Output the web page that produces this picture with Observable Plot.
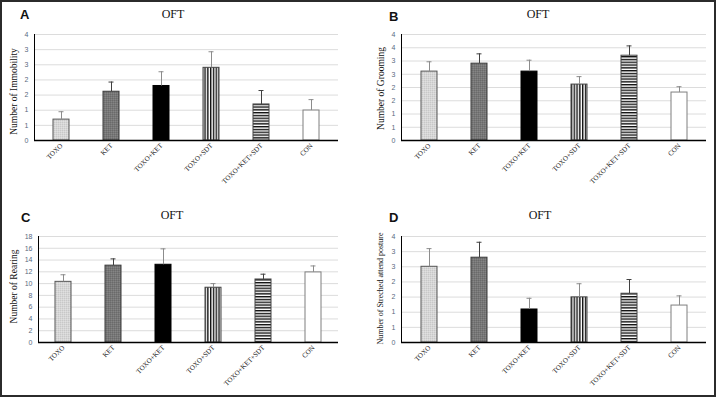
<!DOCTYPE html>
<html><head><meta charset="utf-8">
<script src="https://cdn.jsdelivr.net/npm/d3@7"></script>
<script src="https://cdn.jsdelivr.net/npm/@observablehq/plot@0.6"></script>
<style>
body{margin:0;background:#fff;}
#fig{position:relative;width:716px;height:397px;overflow:hidden;background:#fff;}
.frame{position:absolute;left:0;top:0;width:716px;height:397px;box-sizing:border-box;border:2px solid #2b2b2b;pointer-events:none;}
.panel{position:absolute;}
.letter{position:absolute;font-family:"Liberation Sans",Arial,sans-serif;font-weight:bold;font-size:13px;line-height:13px;color:#111;}
.title{position:absolute;font-family:"Liberation Serif","Times New Roman",serif;font-size:12px;line-height:12px;transform:translateX(-50%);color:#111;}
</style></head>
<body>
<svg width="0" height="0" style="position:absolute">
  <defs>
    <pattern id="pLight" width="2" height="2" patternUnits="userSpaceOnUse">
      <rect width="2" height="2" fill="#d6d6d6"/><rect width="1" height="1" fill="#c8c8c8"/><rect x="1" y="1" width="1" height="1" fill="#e0e0e0"/>
    </pattern>
    <pattern id="pDark" width="2" height="2" patternUnits="userSpaceOnUse">
      <rect width="2" height="2" fill="#777"/><rect width="1" height="1" fill="#6a6a6a"/><rect x="1" y="1" width="1" height="1" fill="#858585"/>
    </pattern>
    <pattern id="pV" width="2.8" height="3" patternUnits="userSpaceOnUse">
      <rect width="2.8" height="3" fill="#fff"/><rect width="1.4" height="3" fill="#111"/>
    </pattern>
    <pattern id="pH" width="3" height="2.8" patternUnits="userSpaceOnUse">
      <rect width="3" height="2.8" fill="#fff"/><rect width="3" height="1.4" fill="#111"/>
    </pattern>
  </defs>
</svg>
<div id="fig"></div>
<script>
// ---- data ----
const categories = ["TOXO", "KET", "TOXO+KET", "TOXO+SDT", "TOXO+KET+SDT", "CON"];

const immobilityMean = [0.69, 1.61, 1.80, 2.40, 1.19, 0.99];
const immobilityErr  = [0.26, 0.32, 0.47, 0.53, 0.46, 0.36];

const groomingMean = [2.60, 2.90, 2.60, 2.11, 3.20, 1.81];
const groomingErr  = [0.37, 0.37, 0.43, 0.30, 0.37, 0.22];

const rearingMean = [10.3, 13.05, 13.2, 9.3, 10.7, 11.9];
const rearingErr  = [1.2, 1.15, 2.7, 0.7, 0.9, 1.1];

const stretchedMean = [2.50, 2.80, 1.09, 1.49, 1.61, 1.22];
const stretchedErr  = [0.60, 0.51, 0.37, 0.45, 0.47, 0.32];

const ticks35 = [0, 0.5, 1, 1.5, 2, 2.5, 3, 3.5];
const tickLabels35 = ["0", "1", "1", "2", "2", "3", "3", "4"];
const ticks40 = [0, 0.5, 1, 1.5, 2, 2.5, 3, 3.5, 4];
const tickLabels40 = ["0", "1", "1", "2", "2", "3", "3", "4", "4"];
const ticks18 = [0, 2, 4, 6, 8, 10, 12, 14, 16, 18];
const tickLabels18 = ["0", "2", "4", "6", "8", "10", "12", "14", "16", "18"];

// ---- styles ----
const barFill   = ["url(#pLight)", "url(#pDark)", "#000", "url(#pV)", "url(#pH)", "#fff"];
const barStroke = ["#555", "#3a3a3a", "#000", "#444", "#444", "#7f7f7f"];
const errStroke = ["#8c8c8c", "#404040", "#8c8c8c", "#8c8c8c", "#404040", "#8c8c8c"];
const serif = "'Liberation Serif','Times New Roman',serif";

const fig = document.getElementById("fig");

function panel(o) {
  const rows = categories.map((c, i) => ({cat: c, v: o.means[i], hi: o.means[i] + o.errs[i], i}));
  const marks = [
    Plot.gridY(o.ticks, {stroke: "#dcdcdc", strokeOpacity: 1}),
    Plot.axisY(o.ticks, {tickSize: 0, tickPadding: 6, fontSize: 7, fill: "#5a6a80",
      fontFamily: "'Liberation Sans',Arial,sans-serif", label: null,
      tickFormat: d => o.labels[o.ticks.indexOf(d)]}),
    Plot.axisX({tickSize: 0, tickPadding: 4, tickRotate: -45, fontSize: 7, fontFamily: serif, label: null, fill: "#222"}),
    ...rows.map(r => Plot.barY([r], {x: "cat", y: "v", fill: barFill[r.i], stroke: barStroke[r.i], strokeWidth: 1})),
    ...rows.map(r => Plot.ruleX([r], {x: "cat", y1: "v", y2: "hi", stroke: errStroke[r.i], strokeWidth: 1})),
    ...rows.map(r => Plot.tickY([r], {x: "cat", y: "hi", stroke: errStroke[r.i], strokeWidth: 1, insetLeft: 5.5, insetRight: 5.5})),
    Plot.ruleY([0], {stroke: "#000", strokeWidth: 1.5}),
    Plot.frame({anchor: "left", stroke: "#000", strokeWidth: 1}),
    Plot.text([o.yLabel], {frameAnchor: "left", textAnchor: "middle", rotate: -90, dx: o.ldx, dy: o.ldy, fontSize: o.lfs, fontFamily: serif, fill: "#111"})
  ];
  const svg = Plot.plot({
    width: o.w, height: o.h,
    marginLeft: o.ml, marginRight: o.mr, marginTop: o.mt, marginBottom: o.mb,
    x: {domain: categories, paddingInner: 0.68, paddingOuter: 0.34},
    y: {domain: [o.ticks[0], o.ticks[o.ticks.length - 1]]},
    style: {background: "transparent", overflow: "visible"},
    marks
  });
  const wrap = document.createElement("div");
  wrap.className = "panel";
  wrap.style.left = o.left + "px";
  wrap.style.top = o.top + "px";
  wrap.appendChild(svg);
  fig.appendChild(wrap);

  const t = document.createElement("div");
  t.className = "title"; t.textContent = "OFT";
  t.style.left = o.tx + "px"; t.style.top = o.ty + "px";
  fig.appendChild(t);
  const L = document.createElement("div");
  L.className = "letter"; L.textContent = o.letter;
  L.style.left = o.lx + "px"; L.style.top = o.ly + "px";
  fig.appendChild(L);
}

panel({letter: "A", lx: 20, ly: 8, tx: 173, ty: 8, left: 0, top: 0, w: 358, h: 198, ml: 34, mr: 20, mt: 34, mb: 58,
  means: immobilityMean, errs: immobilityErr, ticks: ticks35, labels: tickLabels35,
  yLabel: "Number of Immobility", ldx: -21, ldy: 4, lfs: 9.5});
panel({letter: "B", lx: 389, ly: 10, tx: 538, ty: 8, left: 358, top: 0, w: 358, h: 198, ml: 43, mr: 10, mt: 34, mb: 58,
  means: groomingMean, errs: groomingErr, ticks: ticks40, labels: tickLabels40,
  yLabel: "Number of Grooming", ldx: -21, ldy: 1, lfs: 9.5});
panel({letter: "C", lx: 21, ly: 211, tx: 172, ty: 209, left: 0, top: 198, w: 358, h: 199, ml: 38, mr: 20, mt: 38, mb: 55,
  means: rearingMean, errs: rearingErr, ticks: ticks18, labels: tickLabels18,
  yLabel: "Number of Rearing", ldx: -25, ldy: -3, lfs: 9.5});
panel({letter: "D", lx: 389, ly: 211, tx: 540, ty: 209, left: 358, top: 198, w: 358, h: 199, ml: 43, mr: 10, mt: 38, mb: 55,
  means: stretchedMean, errs: stretchedErr, ticks: ticks35, labels: tickLabels35,
  yLabel: "Number of Streched attend posture", ldx: -21, ldy: -1, lfs: 8});

const fr = document.createElement("div");
fr.className = "frame";
fig.appendChild(fr);
</script>
</body></html>
